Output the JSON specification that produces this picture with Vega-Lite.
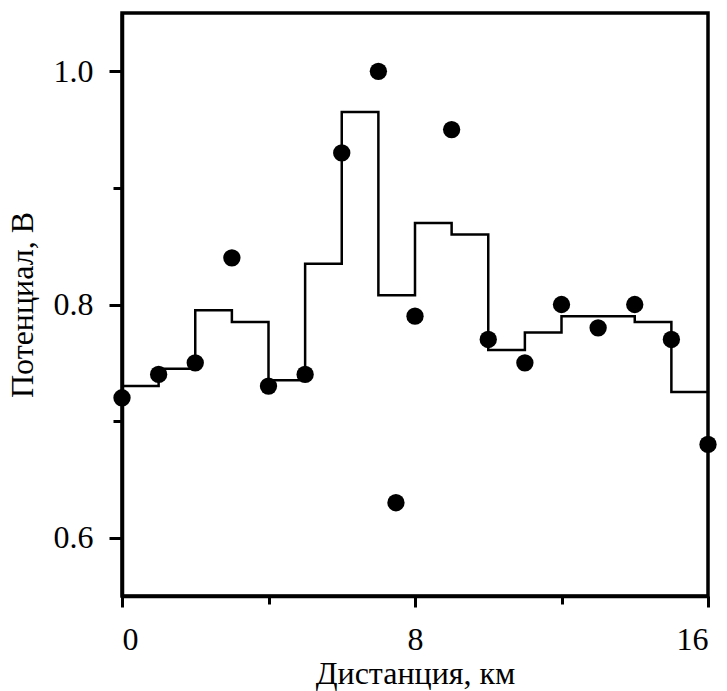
{
  "$schema": "https://vega.github.io/schema/vega-lite/v6.json",
  "width": 586,
  "height": 583,
  "autosize": "none",
  "padding": {"left": 122, "top": 13, "right": 19, "bottom": 95},
  "background": "white",
  "config": {
    "view": {"stroke": "black", "strokeWidth": 3.5}
  },
  "datasets": {
    "pts": [
      {"d": 0, "v": 0.72}, {"d": 1, "v": 0.74}, {"d": 2, "v": 0.75}, {"d": 3, "v": 0.84},
      {"d": 4, "v": 0.73}, {"d": 5, "v": 0.74}, {"d": 6, "v": 0.93}, {"d": 7, "v": 1.0},
      {"d": 7.48, "v": 0.63}, {"d": 8, "v": 0.79}, {"d": 9, "v": 0.95}, {"d": 10, "v": 0.77},
      {"d": 11, "v": 0.75}, {"d": 12, "v": 0.80}, {"d": 13, "v": 0.78}, {"d": 14, "v": 0.80},
      {"d": 15, "v": 0.77}, {"d": 16, "v": 0.68}
    ],
    "step": [
      {"d": 0, "v": 0.730}, {"d": 1, "v": 0.745}, {"d": 2, "v": 0.795}, {"d": 3, "v": 0.785},
      {"d": 4, "v": 0.735}, {"d": 5, "v": 0.835}, {"d": 6, "v": 0.965}, {"d": 7, "v": 0.808},
      {"d": 8, "v": 0.870}, {"d": 9, "v": 0.860}, {"d": 10, "v": 0.761}, {"d": 11, "v": 0.776},
      {"d": 12, "v": 0.790}, {"d": 13, "v": 0.790}, {"d": 14, "v": 0.785}, {"d": 15, "v": 0.725},
      {"d": 16, "v": 0.725}
    ]
  },
  "encoding": {
    "x": {
      "field": "d", "type": "quantitative",
      "scale": {"domain": [0, 16], "nice": false, "zero": false},
      "axis": {
        "title": "Дистанция, км",
        "values": [0, 4, 8, 12, 16],
        "labelExpr": "datum.value % 8 === 0 ? datum.label : ''",
        "tickSize": {"condition": {"test": "datum.value % 8 === 0", "value": 11}, "value": 8},
        "domainColor": "black", "domainWidth": 3.5, "tickColor": "black", "tickWidth": 3, "grid": false,
        "labelFont": "Liberation Serif", "titleFont": "Liberation Serif",
        "labelColor": "black", "titleColor": "black", "labelFontSize": 32, "titleFontSize": 32,
        "titleFontWeight": "normal",
        "labelPadding": 17,
        "titlePadding": 3
      }
    },
    "y": {
      "field": "v", "type": "quantitative",
      "scale": {"domain": [0.55, 1.05], "nice": false, "zero": false},
      "axis": {
        "title": "Потенциал, В",
        "values": [0.6, 0.7, 0.8, 0.9, 1.0],
        "format": ".1f",
        "labelExpr": "round(datum.value * 10) % 2 === 0 ? datum.label : ''",
        "tickSize": {"condition": {"test": "round(datum.value * 10) % 2 === 0", "value": 13}, "value": 9},
        "domainColor": "black", "domainWidth": 3.5, "tickColor": "black", "tickWidth": 3, "grid": false,
        "labelFont": "Liberation Serif", "titleFont": "Liberation Serif",
        "labelColor": "black", "titleColor": "black", "labelFontSize": 32, "titleFontSize": 32,
        "titleFontWeight": "normal",
        "labelPadding": 16,
        "titlePadding": 14
      }
    }
  },
  "layer": [
    {
      "data": {"name": "step"},
      "mark": {"type": "line", "interpolate": "step-after", "color": "black", "strokeWidth": 2.5}
    },
    {
      "data": {"name": "pts"},
      "mark": {"type": "circle", "color": "black", "opacity": 1, "size": 300}
    }
  ]
}
